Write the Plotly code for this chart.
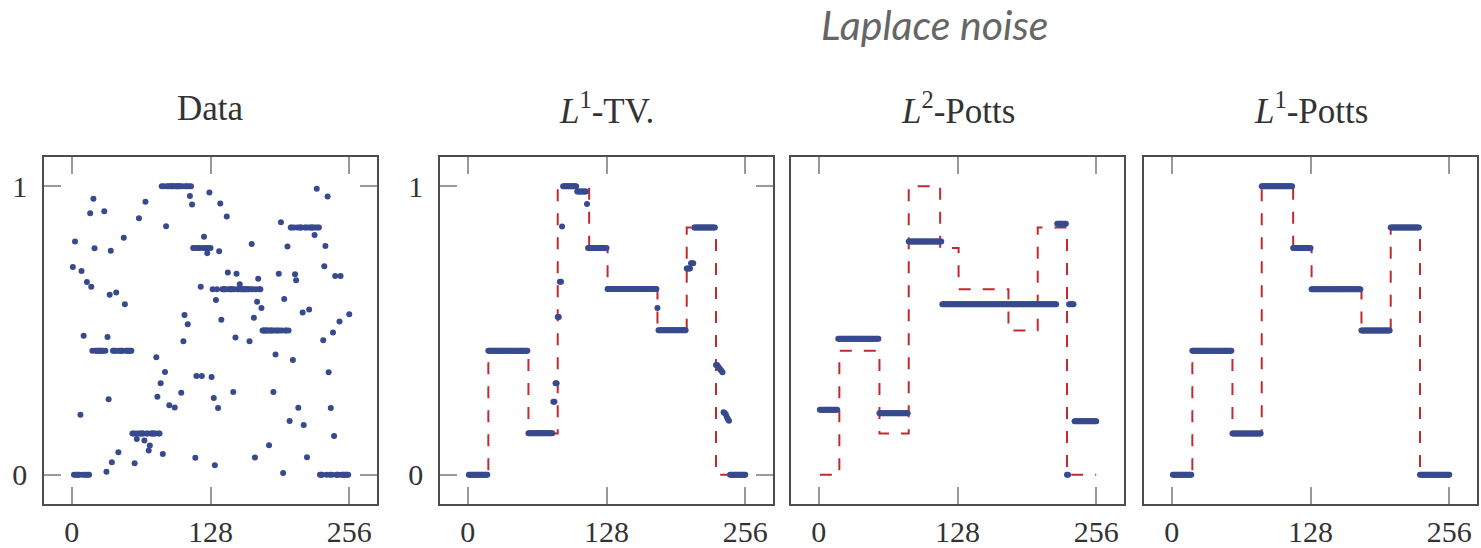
import numpy as np
import plotly.graph_objects as go

# ---------------- data ----------------
N = 256
x_ticks = [0, 128, 256]
y_ticks = [0, 1]

# ground-truth piecewise constant signal (segment start index, value)
true_starts = [1, 19, 56, 83, 112, 129, 175, 202, 229]
true_values = [0.0, 0.43, 0.143, 1.0, 0.786, 0.643, 0.5, 0.857, 0.0]

# noisy samples that leave the true signal (index, value)
outlier_x = [1, 3, 8, 9, 11, 14, 17, 18, 20, 21, 30, 32, 33, 34, 35, 36, 37, 41, 43, 48,
             49, 58, 60, 62, 67, 68, 71, 72, 78, 79, 82, 84, 86, 87, 90, 95, 101, 103, 104, 107,
             109, 111, 114, 115, 119, 120, 122, 125, 127, 129, 131, 132, 133, 135, 136, 137, 138,
             143, 144, 149, 151, 152, 155, 164, 166, 168, 169, 171, 172, 175, 182, 186, 188, 191,
             193, 195, 196, 199, 201, 204, 206, 207, 209, 213, 214, 217, 219, 224, 226, 232, 233,
             234, 236, 237, 239, 241, 242, 243, 247, 248, 256]
outlier_y = [0.72, 0.808, 0.208, 0.706, 0.482, 0.668, 0.906, 0.652, 0.957, 0.785, 0.913, 0.01,
             0.477, 0.262, 0.624, 0.776, 0.043, 0.632, 0.078, 0.821,
             0.591, 0.04, 0.124, 0.889, 0.119, 0.946, 0.084, 0.101, 0.407, 0.27, 0.317, 0.072,
             0.356, 0.861, 0.241, 0.233, 0.284, 0.463, 0.554, 0.522,
             0.966, 0.937, 0.059, 0.342, 0.652, 0.342, 0.825, 0.768, 0.978, 0.339, 0.266, 0.033,
             0.606, 0.231, 0.775, 0.94, 0.537,
             0.895, 0.701, 0.287, 0.476, 0.697, 0.66, 0.463, 0.8, 0.544, 0.06, 0.6, 0.679, 0.578,
             0.102, 0.287, 0.417, 0.697,
             0.875, 0.006, 0.609, 0.791, 0.186, 0.398, 0.695, 0.674, 0.232, 0.562, 0.172, 0.061,
             0.573, 0.831, 0.991, 0.466, 0.723,
             0.793, 0.964, 0.355, 0.231, 0.493, 0.134, 0.689, 0.531, 0.689, 0.556]

# L1-TV reconstruction (segment start index, value)
tv_starts = [1, 19, 56, 79, 81, 83, 85, 87, 88, 101, 110, 111, 129, 175, 176, 202, 206, 209,
             229, 231, 232, 233, 234, 235, 236, 237, 238, 239, 240, 241, 242]
tv_values = [0.0, 0.43, 0.144, 0.253, 0.317, 0.547, 0.669, 0.86, 1.0, 0.982, 0.938, 0.786,
             0.644, 0.578, 0.501, 0.715, 0.733, 0.857,
             0.38, 0.375, 0.37, 0.365, 0.36, 0.355, 0.217, 0.214, 0.21, 0.2, 0.192, 0.187, 0.0]

# L2-Potts reconstruction
l2_starts = [1, 18, 56, 83, 114, 220, 229, 231, 236]
l2_values = [0.225, 0.471, 0.213, 0.808, 0.591, 0.87, 0.0, 0.591, 0.185]

# L1-Potts reconstruction
l1_starts = [1, 19, 56, 83, 112, 129, 175, 202, 229]
l1_values = [0.0, 0.43, 0.143, 1.0, 0.786, 0.643, 0.5, 0.857, 0.0]

titles = ["Data", "<i>L</i><sup>1</sup>-TV.", "<i>L</i><sup>2</sup>-Potts", "<i>L</i><sup>1</sup>-Potts"]
main_title = "<i>Laplace noise</i>"

# ---------------- helpers ----------------
xs = np.arange(1, N + 1)


def expand(starts, values):
    out = np.zeros(N)
    bounds = list(starts) + [N + 1]
    for s, e, v in zip(bounds[:-1], bounds[1:], values):
        out[s - 1:e - 1] = v
    return out


truth = expand(true_starts, true_values)
data = truth.copy()
for xi, yi in zip(outlier_x, outlier_y):
    data[xi - 1] = yi
tv = expand(tv_starts, tv_values)
l2 = expand(l2_starts, l2_values)
l1 = expand(l1_starts, l1_values)

BLUE = "#384a8e"
RED = "#bf2a30"
FRAME = "#4d4d4d"
TICK = "#9a9a9a"
SERIF = "Liberation Serif"

W, H = 1481, 548
frames_px = [(44, 377), (440, 773), (791, 1124), (1144, 1477)]
y_top, y_bot = 160, 512

fig = go.Figure()

series = [data, tv, l2, l1]
for i, ys in enumerate(series):
    suffix = "" if i == 0 else str(i + 1)
    if i > 0:
        fig.add_trace(go.Scatter(x=xs, y=truth, mode="lines", line_shape="hv",
                                 line=dict(color=RED, width=2, dash="12px,12px"),
                                 xaxis="x" + suffix, yaxis="y" + suffix,
                                 hoverinfo="skip", showlegend=False))
    fig.add_trace(go.Scatter(x=xs, y=ys, mode="markers",
                             marker=dict(color=BLUE, size=6, line=dict(width=0)),
                             xaxis="x" + suffix, yaxis="y" + suffix,
                             showlegend=False))

layout = dict(
    width=W, height=H,
    margin=dict(l=0, r=0, t=0, b=0),
    paper_bgcolor="white", plot_bgcolor="white",
    showlegend=False,
)

for i, (l, r) in enumerate(frames_px):
    suffix = "" if i == 0 else str(i + 1)
    layout["xaxis" + suffix] = dict(
        domain=[l / W, r / W], range=[-25.6, 281.6],
        anchor="y" + suffix,
        tickmode="array", tickvals=x_ticks, ticktext=[str(t) for t in x_ticks],
        ticks="inside", ticklen=17, tickwidth=1.5, tickcolor=TICK,
        showline=True, linecolor=FRAME, linewidth=1.6, mirror="ticks",
        showgrid=False, zeroline=False,
        tickfont=dict(family=SERIF, size=30, color="#333333"),
        ticklabelstandoff=1,
    )
    show_y = i < 2
    layout["yaxis" + suffix] = dict(
        domain=[1 - y_bot / H, 1 - y_top / H], range=[-0.1, 1.1],
        anchor="x" + suffix,
        tickmode="array", tickvals=y_ticks if show_y else [],
        ticktext=[str(t) for t in y_ticks] if show_y else [],
        ticks="inside" if show_y else "", ticklen=17, tickwidth=1.5, tickcolor=TICK,
        showline=True, linecolor=FRAME, linewidth=1.6,
        mirror="ticks" if show_y else True,
        showticklabels=show_y,
        showgrid=False, zeroline=False,
        tickfont=dict(family=SERIF, size=30, color="#333333"),
        ticklabelstandoff=9,
    )

annotations = []
for i, (l, r) in enumerate(frames_px):
    annotations.append(dict(
        text=titles[i], x=(l + r) / 2 / W, y=1 - 110 / H,
        xref="paper", yref="paper", xanchor="center", yanchor="middle",
        showarrow=False, font=dict(family=SERIF, size=35, color="#333333")))
annotations.append(dict(
    text=main_title, x=935 / W, y=1 - 25 / H, xref="paper", yref="paper",
    xanchor="center", yanchor="middle", showarrow=False,
    font=dict(family="Lato", size=41, color="#666666")))
layout["annotations"] = annotations

fig.update_layout(**layout)
fig.write_html("out.html")
